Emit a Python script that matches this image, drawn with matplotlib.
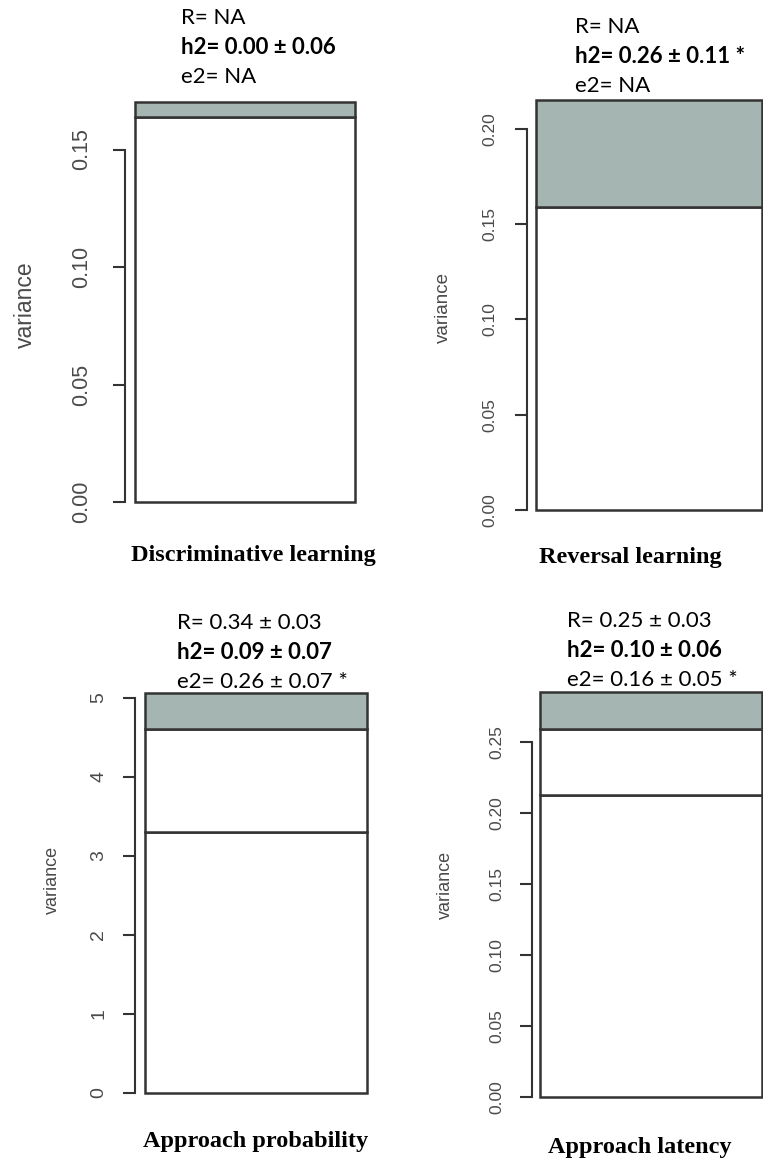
import matplotlib
matplotlib.use("Agg")
import matplotlib.pyplot as plt
import numpy as np

W, H = 763, 1168

# variance components per trait (bottom -> top of stack)
traits = ["Discriminative learning", "Reversal learning",
          "Approach probability", "Approach latency"]
resid_var = [0.164, 0.159, 3.30, 0.213]
pe_var = [0.0, 0.0, 1.31, 0.046]
add_var = [0.006, 0.056, 0.45, 0.026]

r_text = ["R= NA", "R= NA", "R= 0.34 \u00b1 0.03", "R= 0.25 \u00b1 0.03"]
h2_text = ["h2= 0.00 \u00b1 0.06", "h2= 0.26 \u00b1 0.11 *",
           "h2= 0.09 \u00b1 0.07", "h2= 0.10 \u00b1 0.06"]
e2_text = ["e2= NA", "e2= NA", "e2= 0.26 \u00b1 0.07 *", "e2= 0.16 \u00b1 0.05 *"]

yticks = [[0, 0.05, 0.10, 0.15],
          [0, 0.05, 0.10, 0.15, 0.20],
          [0, 1, 2, 3, 4, 5],
          [0, 0.05, 0.10, 0.15, 0.20, 0.25]]
ytick_fmt = ["{:.2f}", "{:.2f}", "{:d}", "{:.2f}"]

# panel geometry in pixels: spine x, bar left, bar right, zero y, px per unit
layout = [
    dict(spine=125, left=135, right=355, y0=502, scale=2350, tick_fs=15.5,
         lab_fs=16.5, lab_x=25, lab_y=305, pad=15, text_x=181, text_y=18,
         title=(253, 556)),
    dict(spine=527, left=536, right=762, y0=510, scale=1906, tick_fs=12.5,
         lab_fs=13.5, lab_x=443, lab_y=307, pad=12, text_x=575, text_y=27,
         title=(630, 558)),
    dict(spine=135, left=145, right=367, y0=1093, scale=79, tick_fs=14,
         lab_fs=13, lab_x=52, lab_y=880, pad=11, text_x=177, text_y=623,
         title=(256, 1141)),
    dict(spine=532, left=540, right=762, y0=1097, scale=1420, tick_fs=12.5,
         lab_fs=13, lab_x=445, lab_y=885, pad=11, text_x=567, text_y=621,
         title=(640, 1147)),
]

edge = "#333333"
grey_fill = "#a5b5b2"
tick_col = "#4a4a4a"

fig = plt.figure(figsize=(W / 100, H / 100), dpi=100)


def fx(x):
    return x / W


def fy(y):
    return 1 - y / H


for i, g in enumerate(layout):
    top = resid_var[i] + pe_var[i] + add_var[i]
    top_px = g["y0"] - top * g["scale"]
    ax = fig.add_axes([fx(g["left"]), fy(g["y0"]),
                       (g["right"] - g["left"]) / W, (g["y0"] - top_px) / H])
    ax.set_xlim(0, 1)
    ax.set_ylim(0, top)
    ax.patch.set_alpha(0)

    bottoms = 0.0
    for val, col in [(resid_var[i], "white"), (pe_var[i], "white"),
                     (add_var[i], grey_fill)]:
        if val > 0:
            ax.bar(0.5, val, width=1.0, bottom=bottoms, color=col,
                   edgecolor=edge, linewidth=1.8, clip_on=False)
        bottoms += val

    for s in ["top", "right", "bottom"]:
        ax.spines[s].set_visible(False)
    ax.spines["left"].set_position(("outward", (g["left"] - g["spine"]) * 0.72))
    ax.spines["left"].set_bounds(yticks[i][0], yticks[i][-1])
    ax.spines["left"].set_color(edge)
    ax.spines["left"].set_linewidth(1.5)
    ax.set_xticks([])
    ax.set_yticks(yticks[i])
    ax.set_yticklabels([ytick_fmt[i].format(t) for t in yticks[i]],
                       rotation=90, va="center", fontsize=g["tick_fs"],
                       color=tick_col, family="Liberation Sans")
    ax.tick_params(axis="y", length=9, width=1.5, color=edge, pad=g["pad"])

    fig.text(fx(g["lab_x"]), fy(g["lab_y"]), "variance", rotation=90,
             ha="center", va="center", fontsize=g["lab_fs"], color=tick_col,
             family="Liberation Sans")

    for k, (txt, wt) in enumerate([(r_text[i], "normal"), (h2_text[i], "bold"),
                                   (e2_text[i], "normal")]):
        fig.text(fx(g["text_x"]), fy(g["text_y"] + k * 29.5), txt,
                 ha="left", va="center", fontsize=16, fontweight=wt,
                 family="Lato", color="black")

    fig.text(fx(g["title"][0]), fy(g["title"][1]), traits[i], ha="center",
             va="center", fontsize=17.5, fontweight="bold",
             family="Liberation Serif")

fig.savefig("out.png", dpi=100)
